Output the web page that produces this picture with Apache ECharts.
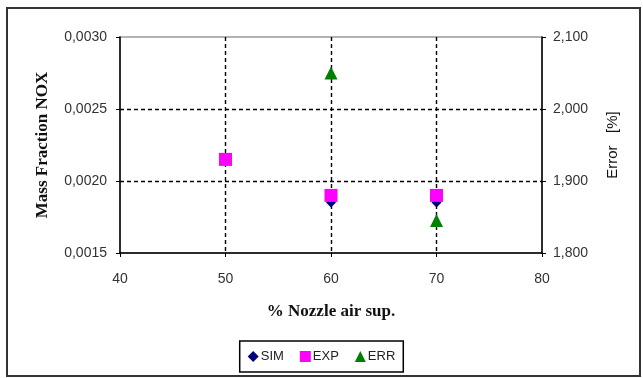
<!DOCTYPE html>
<html><head><meta charset="utf-8">
<script src="https://cdn.jsdelivr.net/npm/echarts@6/dist/echarts.min.js"></script>
<style>html,body{margin:0;padding:0;background:#fff}#c{width:643px;height:378px}</style>
</head><body><div id="c"></div>
<script>
const xValues = [50, 60, 70];
const simValues = [0.00214, 0.00185, 0.00185];
const expValues = [0.00215, 0.00190, 0.00190];
const errX = [60, 70];
const errValues = [2.05, 1.845];
const xTicks = [40, 50, 60, 70, 80];
const leftTicks = [0.0015, 0.0020, 0.0025, 0.0030];
const rightTicks = [1.8, 1.9, 2.0, 2.1];

const fmtLeft = v => v.toFixed(4).replace('.', ',');
const fmtRight = v => v.toFixed(3).replace('.', ',');
const tickFont = {fontFamily:'Liberation Sans, Arial', fontSize:14, color:'#333'};
const nameFont = {fontFamily:'Liberation Serif, Times New Roman', fontWeight:'bold', fontSize:17, color:'#111'};

const chart = echarts.init(document.getElementById('c'));
chart.setOption({
  animation:false,
  graphic:[{type:'rect', shape:{x:7,y:8,width:633,height:368}, style:{fill:'none', stroke:'#333', lineWidth:2}, z:-10}],
  grid:{left:120, right:101, top:37, bottom:125, show:true, borderColor:'#999', borderWidth:1.5, backgroundColor:'transparent'},
  xAxis:{type:'value', min:xTicks[0], max:xTicks[xTicks.length-1], interval:10,
    name:'% Nozzle air sup.', nameLocation:'middle', nameGap:50, nameTextStyle:nameFont,
    axisLine:{lineStyle:{color:'#000', width:1.5}}, axisTick:{show:true, length:4, lineStyle:{color:'#000'}},
    axisLabel:Object.assign({margin:19}, tickFont),
    splitLine:{show:true, lineStyle:{type:[4,3], color:['transparent','#000','#000','#000','transparent'], width:1.4}}},
  yAxis:[
    {type:'value', min:leftTicks[0], max:leftTicks[leftTicks.length-1], interval:0.0005,
     name:'Mass Fraction NOX', nameLocation:'middle', nameGap:69, nameRotate:90, nameTextStyle:nameFont,
     axisLine:{show:true, lineStyle:{color:'#000', width:1.5}}, axisTick:{show:true, length:4, lineStyle:{color:'#000'}},
     axisLabel:Object.assign({margin:13, formatter:fmtLeft}, tickFont),
     splitLine:{show:true, lineStyle:{type:[4,3], color:['transparent','#000','#000','transparent'], width:1.4}}},
    {type:'value', position:'right', min:rightTicks[0], max:rightTicks[rightTicks.length-1], interval:0.1,
     name:'Error   [%]', nameLocation:'middle', nameGap:63, nameRotate:90,
     nameTextStyle:{fontFamily:'Liberation Sans, Arial', fontSize:15, color:'#111'},
     axisLine:{show:true, lineStyle:{color:'#000', width:1.5}}, axisTick:{show:true, inside:false, length:4, lineStyle:{color:'#000'}},
     axisLabel:Object.assign({margin:11, formatter:fmtRight}, tickFont),
     splitLine:{show:false}}
  ],
  legend:{bottom:6, left:'center', orient:'horizontal', borderColor:'#000', borderWidth:1.5, padding:[9,8,9,8],
    itemGap:16, itemWidth:11, itemHeight:11,
    textStyle:{fontFamily:'Liberation Sans, Arial', fontSize:13, color:'#222', padding:[0,0,0,-3]},
    data:[{name:'SIM', icon:'diamond'},{name:'EXP', icon:'rect'},{name:'ERR', icon:'triangle'}]},
  series:[
    {name:'SIM', type:'scatter', yAxisIndex:0, z:2, symbol:'diamond', symbolSize:10, itemStyle:{color:'#000080', opacity:1},
     data:xValues.map((x,i)=>[x, simValues[i]])},
    {name:'EXP', type:'scatter', yAxisIndex:0, z:3, symbol:'rect', symbolSize:13, itemStyle:{color:'#ff00ff', opacity:1},
     data:xValues.map((x,i)=>[x, expValues[i]])},
    {name:'ERR', type:'scatter', yAxisIndex:1, z:4, symbol:'triangle', symbolSize:13, itemStyle:{color:'#008000', opacity:1},
     data:errX.map((x,i)=>[x, errValues[i]])}
  ]
});
</script></body></html>
